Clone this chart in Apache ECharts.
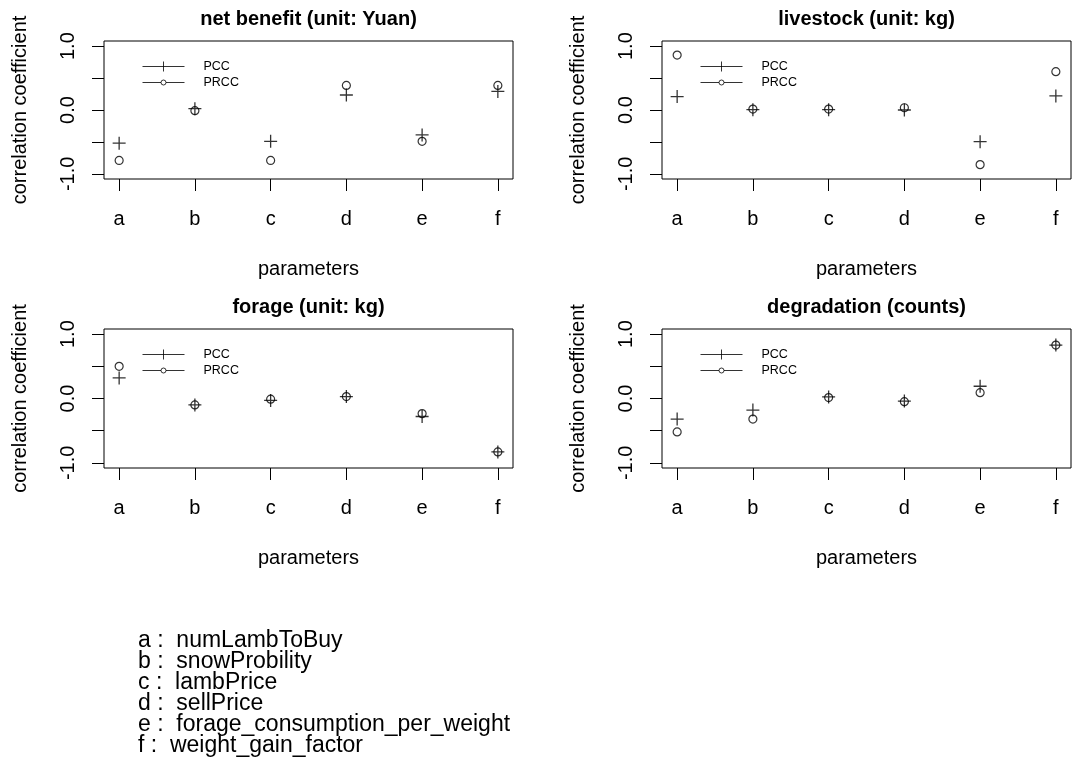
<!DOCTYPE html>
<html>
<head>
<meta charset="utf-8">
<title>PCC / PRCC</title>
<script src="https://cdn.jsdelivr.net/npm/echarts@6/dist/echarts.min.js"></script>
<style>
  html, body { margin: 0; padding: 0; background: #fff; }
  #main { width: 1074px; height: 760px; }
</style>
</head>
<body>
<div id="main"></div>
<script>
  // parameters a..f
  const params = ['a', 'b', 'c', 'd', 'e', 'f'];
  const paramNames = ['numLambToBuy', 'snowProbility', 'lambPrice', 'sellPrice',
    'forage_consumption_per_weight', 'weight_gain_factor'];
  const panelTitles = ['net benefit (unit: Yuan)', 'livestock (unit: kg)',
    'forage (unit: kg)', 'degradation (counts)'];
  const yTicks = [-1, -0.5, 0, 0.5, 1];
  const yLabels = [-1, 0, 1];

  const benefitPcc = [-0.52, 0.02, -0.49, 0.235, -0.39, 0.29];
  const benefitPrcc = [-0.79, -0.01, -0.79, 0.385, -0.49, 0.385];
  const livestockPcc = [0.21, 0.005, 0.005, 0.0, -0.495, 0.22];
  const livestockPrcc = [0.86, 0.015, 0.015, 0.035, -0.855, 0.6];
  const foragePcc = [0.32, -0.1, -0.03, 0.03, -0.28, -0.83];
  const foragePrcc = [0.5, -0.1, -0.01, 0.03, -0.235, -0.83];
  const degradPcc = [-0.32, -0.18, 0.025, -0.04, 0.19, 0.83];
  const degradPrcc = [-0.52, -0.32, 0.015, -0.05, 0.09, 0.83];

  const pccList = [benefitPcc, livestockPcc, foragePcc, degradPcc];
  const prccList = [benefitPrcc, livestockPrcc, foragePrcc, degradPrcc];

  const FONT = '"Liberation Sans", Arial, sans-serif';
  const plusPath = 'path://M0,6.5L13,6.5M6.5,0L6.5,13';
  const legendPcc = 'path://M0,5L42,5M21,0L21,10';
  const legendPrcc = 'path://M0,0M42,10M0,5L18.5,5M23.5,5L42,5M23.5,5A2.5,2.5,0,1,1,18.5,5A2.5,2.5,0,1,1,23.5,5';

  // panel boxes [left, top, width, height]
  const boxes = [[104, 41, 409, 138], [662, 41, 409, 138], [104, 329, 409, 139], [662, 329, 409, 139]];

  let grid = [], xAxis = [], yAxis = [], series = [], title = [], legend = [];

  boxes.forEach(function (b, i) {
    grid.push({
      left: b[0], top: b[1], width: b[2], height: b[3],
      show: true, borderColor: '#000', borderWidth: 1, backgroundColor: 'transparent'
    });
    title.push({
      text: panelTitles[i],
      left: b[0] + b[2] / 2, top: b[1] - 32, padding: 0, textAlign: 'center',
      textStyle: { fontFamily: FONT, fontSize: 20, fontWeight: 'bold', color: '#000' }
    });
    xAxis.push({
      gridIndex: i, type: 'value', min: 0.8, max: 6.2,
      name: 'parameters', nameLocation: 'middle', nameGap: 80,
      nameTextStyle: { fontFamily: FONT, fontSize: 20, color: '#000' },
      splitLine: { show: false },
      axisLine: { show: false, onZero: false },
      axisTick: { show: true, length: 12, lineStyle: { color: '#000' }, customValues: [1, 2, 3, 4, 5, 6] },
      axisLabel: {
        customValues: [1, 2, 3, 4, 5, 6], margin: 30,
        fontFamily: FONT, fontSize: 20, color: '#000',
        formatter: function (v) { return params[Math.round(v) - 1]; }
      }
    });
    yAxis.push({
      gridIndex: i, type: 'value', min: -1.08, max: 1.08,
      name: 'correlation coefficient', nameLocation: 'middle', nameGap: 74, nameRotate: 90,
      nameTextStyle: { fontFamily: FONT, fontSize: 20, color: '#000' },
      splitLine: { show: false },
      axisLine: { show: false, onZero: false },
      axisTick: { show: true, length: 12, lineStyle: { color: '#000' }, customValues: yTicks },
      axisLabel: {
        customValues: yLabels, rotate: 90, margin: 26,
        fontFamily: FONT, fontSize: 20, color: '#000',
        formatter: function (v) { return v.toFixed(1); }
      }
    });
    legend.push({
      data: [{ name: 'PCC', icon: legendPcc }, { name: 'PRCC', icon: legendPrcc }],
      orient: 'vertical', left: b[0] + 38, top: b[1] + 19,
      itemWidth: 42, itemHeight: 10, itemGap: 3, padding: 0,
      selectedMode: false,
      itemStyle: { color: 'transparent', borderColor: '#000', borderWidth: 1 },
      textStyle: { fontFamily: FONT, fontSize: 12.5, color: '#000', lineHeight: 12, padding: [0, 0, 0, 14] }
    });
    series.push({
      name: 'PCC', type: 'scatter', xAxisIndex: i, yAxisIndex: i,
      symbol: plusPath, symbolSize: 13,
      itemStyle: { color: 'transparent', borderColor: '#000', borderWidth: 1.3 },
      data: pccList[i].map(function (v, k) { return [k + 1, v]; })
    });
    series.push({
      name: 'PRCC', type: 'scatter', xAxisIndex: i, yAxisIndex: i,
      symbol: 'circle', symbolSize: 8,
      itemStyle: { color: 'transparent', borderColor: '#000', borderWidth: 1.2 },
      data: prccList[i].map(function (v, k) { return [k + 1, v]; })
    });
  });

  let myChart = echarts.init(document.getElementById('main'));
  myChart.setOption({
    animation: false,
    backgroundColor: '#fff',
    title: title,
    legend: legend,
    grid: grid,
    xAxis: xAxis,
    yAxis: yAxis,
    series: series,
    graphic: [{
      type: 'text', left: 138, top: 629,
      style: {
        text: params.map(function (p, i) { return p + ' :  ' + paramNames[i]; }).join('\n'),
        font: '23px ' + FONT, lineHeight: 21, fill: '#000'
      }
    }]
  });
</script>
</body>
</html>
